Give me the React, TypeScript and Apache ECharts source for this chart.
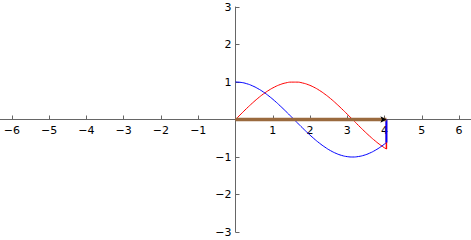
import React, { useEffect, useRef } from "react";
import * as echarts from "echarts";

const xs = [0, 0.15, 0.3, 0.45, 0.6, 0.75, 0.9, 1.05, 1.2, 1.35, 1.5, 1.65, 1.8, 1.95, 2.1, 2.25, 2.4, 2.55, 2.7, 2.85, 3.0, 3.15, 3.3, 3.45, 3.6, 3.75, 3.9, 4.05];
const sinValues = [0, 0.149, 0.296, 0.435, 0.565, 0.682, 0.783, 0.867, 0.932, 0.976, 0.997, 0.997, 0.974, 0.929, 0.863, 0.778, 0.675, 0.558, 0.427, 0.287, 0.141, -0.008, -0.158, -0.304, -0.443, -0.572, -0.688, -0.788];
const cosValues = [1, 0.989, 0.955, 0.9, 0.825, 0.732, 0.622, 0.498, 0.362, 0.219, 0.071, -0.079, -0.227, -0.37, -0.505, -0.628, -0.737, -0.83, -0.904, -0.958, -0.99, -1.0, -0.987, -0.953, -0.897, -0.821, -0.726, -0.615];
const angle = 4.05;
const xTicks = [-6, -5, -4, -3, -2, -1, 1, 2, 3, 4, 5, 6];
const yTicks = [-3, -2, -1, 1, 2, 3];

const fmt = (v: number) => (v === 0 ? "" : v < 0 ? "\u2212" + Math.abs(v) : String(v));

const W = 471;
const H = 240;
const TOP = 7;
const BOTTOM = 8;

export default function App() {
  const ref = useRef<HTMLDivElement>(null);
  useEffect(() => {
    if (!ref.current) return;
    const chart = echarts.init(ref.current, undefined, { renderer: "svg" });
    const axisLabel = { color: "#000", fontFamily: "DejaVu Sans", fontSize: 11, formatter: fmt };
    const gridH = H - TOP - BOTTOM;
    chart.setOption({
      animation: false,
      grid: { left: 0, right: 0, top: TOP, bottom: BOTTOM, containLabel: false, outerBoundsMode: "none" },
      xAxis: {
        type: "value",
        min: -6.32,
        max: 6.32,
        position: "bottom",
        offset: -gridH / 2,
        axisLine: { show: true, onZero: false, lineStyle: { color: "#666", width: 1 } },
        axisTick: { show: true, inside: true, length: 4, customValues: xTicks, lineStyle: { color: "#666" } },
        axisLabel: { ...axisLabel, margin: 5, customValues: xTicks },
        splitLine: { show: false },
      },
      yAxis: {
        type: "value",
        min: -3,
        max: 3,
        interval: 1,
        position: "left",
        offset: -W / 2,
        axisLine: { show: true, onZero: false, lineStyle: { color: "#666", width: 1 } },
        axisTick: { show: true, inside: true, length: 4, customValues: yTicks, lineStyle: { color: "#666" } },
        axisLabel: { ...axisLabel, margin: 4, customValues: yTicks },
        splitLine: { show: false },
      },
      series: [
        {
          type: "line",
          data: xs.map((x, i) => [x, sinValues[i]]),
          smooth: true,
          showSymbol: false,
          lineStyle: { color: "#ff0000", width: 1 },
        },
        {
          type: "line",
          data: xs.map((x, i) => [x, cosValues[i]]),
          smooth: true,
          showSymbol: false,
          lineStyle: { color: "#0000ff", width: 1 },
        },
        {
          type: "line",
          data: [[angle, 0], [angle, sinValues[sinValues.length - 1]]],
          showSymbol: false,
          lineStyle: { color: "#ff0000", width: 1.5 },
        },
        {
          type: "line",
          data: [[angle, 0], [angle, cosValues[cosValues.length - 1]]],
          showSymbol: false,
          lineStyle: { color: "#0000ff", width: 2 },
        },
        {
          type: "line",
          data: [
            { value: [0, 0], symbol: "none" },
            { value: [angle, 0], symbol: "arrow", symbolRotate: -90, symbolSize: [5, 6] },
          ],
          showSymbol: true,
          symbol: "none",
          itemStyle: { color: "#000" },
          lineStyle: { color: "#9a6a3e", width: 3.5 },
        },
      ],
    });
    return () => chart.dispose();
  }, []);
  return <div ref={ref} style={{ width: W, height: H, position: "absolute", left: 0, top: 0 }} />;
}
